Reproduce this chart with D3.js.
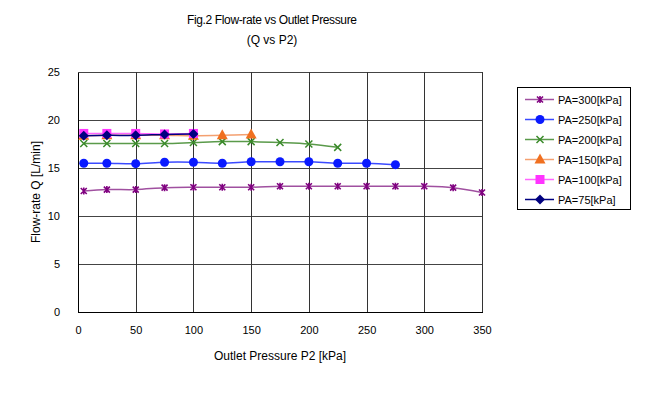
<!DOCTYPE html>
<html lang="en">
<head>
    <meta charset="UTF-8">
    <title>Fig.2 Flow-rate vs Outlet Pressure</title>
    <script src="https://d3js.org/d3.v7.min.js"></script>
    <style>
        body { margin: 0; background: #fff; }
        svg { font-family: "Liberation Sans", Arial, sans-serif; }
        .grid line { stroke: #000; stroke-width: 1px; shape-rendering: crispEdges; }
        .axis path, .axis line { stroke: #000; shape-rendering: crispEdges; }
        .axis text { font-size: 11px; fill: #000; }
        .series-line { fill: none; stroke-width: 1.5px; }
    </style>
</head>
<body>
    <svg width="654" height="395"></svg>

    <script>
        // Data
        const xTicks = [0, 50, 100, 150, 200, 250, 300, 350];
        const yTicks = [0, 5, 10, 15, 20, 25];

        const p300x = [5, 25, 50, 75, 100, 125, 150, 175, 200, 225, 250, 275, 300, 325, 350];
        const p300y = [12.6, 12.75, 12.75, 12.95, 13.0, 13.0, 13.0, 13.1, 13.1, 13.1, 13.1, 13.1, 13.1, 12.95, 12.45];

        const p250x = [5, 25, 50, 75, 100, 125, 150, 175, 200, 225, 250, 275];
        const p250y = [15.5, 15.5, 15.45, 15.6, 15.6, 15.5, 15.65, 15.65, 15.65, 15.5, 15.5, 15.35];

        const p200x = [5, 25, 50, 75, 100, 125, 150, 175, 200, 225];
        const p200y = [17.55, 17.55, 17.55, 17.55, 17.65, 17.75, 17.75, 17.65, 17.5, 17.15];

        const p150x = [5, 25, 50, 75, 100, 125, 150];
        const p150y = [18.35, 18.4, 18.4, 18.4, 18.35, 18.4, 18.5];

        const p100x = [5, 25, 50, 75, 100];
        const p100y = [18.6, 18.6, 18.6, 18.55, 18.6];

        const p75x = [5, 25, 50, 75, 100];
        const p75y = [18.35, 18.4, 18.4, 18.5, 18.55];

        const seriesNames = ["PA=300[kPa]", "PA=250[kPa]", "PA=200[kPa]", "PA=150[kPa]", "PA=100[kPa]", "PA=75[kPa]"];
        const seriesColors = ["#800080", "#0a1aff", "#3a8a2a", "#f07020", "#ff33ff", "#000080"];
        const lineColors = ["#a050a0", "#3a4aff", "#5a9a4a", "#f4a070", "#ff66ff", "#000080"];
        const markerTypes = ["star", "circle", "cross", "triangle", "square", "diamond"];

        const series = [
            [p300x, p300y], [p250x, p250y], [p200x, p200y],
            [p150x, p150y], [p100x, p100y], [p75x, p75y]
        ].map((s, i) => ({
            name: seriesNames[i],
            color: seriesColors[i],
            lineColor: lineColors[i],
            marker: markerTypes[i],
            values: s[0].map((x, j) => ({ x: x, y: s[1][j] }))
        }));

        // SVG setup
        const svg = d3.select("svg");
        const margin = { top: 72, left: 78 };
        const width = 404, height = 240;
        const g = svg.append("g").attr("transform", `translate(${margin.left},${margin.top})`);

        const x = d3.scaleLinear().domain([0, 350]).range([0, width]);
        const y = d3.scaleLinear().domain([0, 25]).range([height, 0]);

        // Gridlines
        g.append("g").attr("class", "grid")
            .selectAll("line").data(yTicks.slice(1)).enter().append("line")
            .attr("x1", 0).attr("x2", width)
            .attr("y1", d => Math.round(y(d)) + 0.5).attr("y2", d => Math.round(y(d)) + 0.5)
            .style("stroke", "#444");

        g.append("g").attr("class", "grid")
            .selectAll("line").data(xTicks.slice(1)).enter().append("line")
            .attr("y1", 0).attr("y2", height)
            .attr("x1", d => Math.round(x(d)) + 0.5).attr("x2", d => Math.round(x(d)) + 0.5)
            .style("stroke", "#333");

        // Axes
        g.append("g")
            .attr("class", "axis")
            .attr("transform", `translate(0,${height})`)
            .call(d3.axisBottom(x).tickValues(xTicks).tickSize(0).tickPadding(14).tickSizeOuter(0));

        g.append("g")
            .attr("class", "axis")
            .call(d3.axisLeft(y).tickValues(yTicks).tickSize(0).tickPadding(18).tickSizeOuter(0));

        // Titles
        svg.append("text")
            .attr("x", 272).attr("y", 24)
            .attr("text-anchor", "middle")
            .style("font-size", "12px")
            .attr("textLength", 170)
            .text("Fig.2 Flow-rate vs Outlet Pressure");
        svg.append("text")
            .attr("x", 272).attr("y", 44)
            .attr("text-anchor", "middle")
            .style("font-size", "12px")
            .text("(Q vs P2)");

        svg.append("text")
            .attr("x", 280).attr("y", 360)
            .attr("text-anchor", "middle")
            .style("font-size", "12px")
            .text("Outlet Pressure P2 [kPa]");

        svg.append("text")
            .attr("transform", "translate(40,192) rotate(-90)")
            .attr("text-anchor", "middle")
            .style("font-size", "12px")
            .text("Flow-rate Q [L/min]");

        // Lines
        const line = d3.line()
            .x(d => x(d.x))
            .y(d => y(d.y))
            .curve(d3.curveCatmullRom.alpha(0.5));

        // Markers
        function drawMarker(sel, type, color) {
            if (type === "star") {
                sel.append("path")
                    .attr("d", "M-3,-3L3,3M-3,3L3,-3M0,-3.5L0,3.5")
                    .attr("stroke", color).attr("stroke-width", 1.6).attr("fill", "none");
            } else if (type === "cross") {
                sel.append("path")
                    .attr("d", "M-3.5,-3.5L3.5,3.5M-3.5,3.5L3.5,-3.5")
                    .attr("stroke", color).attr("stroke-width", 1.5).attr("fill", "none");
            } else if (type === "circle") {
                sel.append("circle").attr("r", 4.5).attr("fill", color);
            } else if (type === "triangle") {
                sel.append("path").attr("d", "M0,-6L5.5,4L-5.5,4Z").attr("fill", color);
            } else if (type === "square") {
                sel.append("rect").attr("x", -4.5).attr("y", -4.5).attr("width", 9).attr("height", 9).attr("fill", color);
            } else if (type === "diamond") {
                sel.append("path").attr("d", "M0,-5L5,0L0,5L-5,0Z").attr("fill", color);
            }
        }

        series.forEach(s => {
            const sg = g.append("g");
            sg.append("path")
                .datum(s.values)
                .attr("class", "series-line")
                .attr("stroke", s.lineColor)
                .attr("d", line);
            sg.selectAll(".pt")
                .data(s.values)
                .enter().append("g")
                .attr("class", "pt")
                .attr("transform", d => `translate(${x(d.x)},${y(d.y)})`)
                .each(function() { drawMarker(d3.select(this), s.marker, s.color); });
        });

        // Legend
        const legend = svg.append("g").attr("transform", "translate(517,87)");
        legend.append("rect")
            .attr("x", 0.5).attr("y", 0.5)
            .attr("width", 113).attr("height", 122)
            .attr("fill", "#fff").attr("stroke", "#000");

        series.forEach((s, i) => {
            const row = legend.append("g").attr("transform", `translate(0,${12.5 + i * 20})`);
            row.append("line")
                .attr("x1", 8).attr("x2", 37)
                .attr("stroke", s.lineColor).attr("stroke-width", 1.5);
            const m = row.append("g").attr("transform", "translate(23,0)");
            drawMarker(m, s.marker, s.color);
            row.append("text")
                .attr("x", 41).attr("y", 4)
                .style("font-size", "11px")
                .text(s.name);
        });
    </script>
</body>
</html>
